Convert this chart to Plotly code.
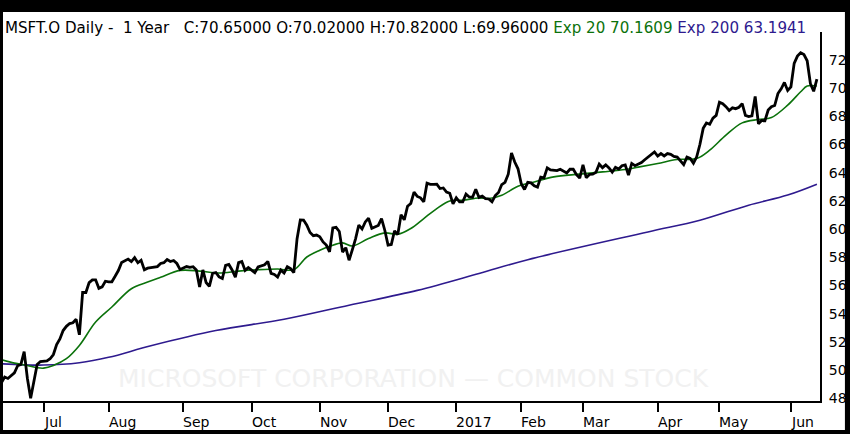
import numpy as np
import pandas as pd
import plotly.graph_objects as go

# NYSE holidays inside the one-year window
HOLIDAYS = ["2016-07-04", "2016-09-05", "2016-11-24", "2016-12-26", "2017-01-02",
            "2017-01-16", "2017-02-20", "2017-04-14", "2017-05-29"]
trade_days = pd.bdate_range("2016-06-14", "2017-06-13", freq="C", holidays=HOLIDAYS)

# daily closes, Jun 14 2016 .. Jun 13 2017
close_jun16 = [49.1, 49.5, 49.4, 49.6, 49.8, 50.3, 50.4, 51.3, 49.4, 48.0, 49.3, 50.4, 50.6]
close_jul16 = [50.6, 50.65, 50.8, 51.1, 51.8, 52.2, 52.8, 53.1, 53.3, 53.35, 53.6, 52.5, 55.5,
               55.5, 56.2, 56.4, 56.4, 55.8, 55.9, 56.3]
close_aug16 = [56.26, 56.26, 56.65, 57.06, 57.63, 57.73, 57.87, 57.69, 57.97, 57.61, 57.79, 57.11,
               57.23, 57.27, 57.29, 57.34, 57.56, 57.62, 57.84, 57.70, 57.77, 57.56, 57.13]
close_sep16 = [57.26, 57.34, 57.28, 57.33, 57.10, 55.89, 57.10, 56.21, 55.94, 56.86, 56.92, 56.61,
               56.49, 57.43, 57.49, 57.10, 56.58, 57.62, 57.70, 57.07, 57.27]
close_oct16 = [57.09, 56.91, 57.31, 57.41, 57.47, 57.71, 56.86, 56.78, 56.60, 57.09, 56.89, 57.33,
               57.20, 56.92, 59.32, 60.65, 60.64, 60.28, 59.76, 59.53, 59.58]
close_nov16 = [59.46, 59.09, 58.87, 58.38, 60.08, 60.13, 59.83, 58.37, 58.68, 57.79, 58.53, 59.31,
               60.29, 60.01, 60.51, 60.77, 60.06, 60.18, 60.26, 60.74, 59.92]
close_dec16 = [58.86, 58.91, 59.88, 59.61, 61.02, 60.66, 61.62, 61.82, 62.62, 62.32, 62.22, 61.94,
               63.26, 63.18, 63.18, 63.19, 62.88, 62.92, 62.63, 62.54, 61.79]
close_jan17 = [62.22, 61.94, 61.94, 62.48, 62.28, 62.26, 62.83, 62.25, 62.34, 62.17, 62.14, 61.94,
               62.38, 62.60, 63.16, 63.32, 63.90, 65.40, 64.76, 64.28]
close_feb17 = [63.22, 62.81, 63.32, 63.28, 63.07, 62.98, 63.69, 63.64, 64.35, 64.20, 64.16, 64.15,
               64.25, 64.12, 63.99, 64.25, 64.25, 63.86, 63.62]
close_mar17 = [64.57, 63.65, 63.88, 63.90, 64.03, 64.62, 64.36, 64.56, 64.34, 64.04, 64.38, 64.27,
               64.50, 64.56, 63.84, 64.66, 64.50, 64.61, 64.73, 64.92, 65.10, 65.34, 65.48]
close_apr17 = [65.18, 65.36, 65.19, 65.36, 65.31, 65.16, 65.11, 64.86, 64.58, 65.11, 65.02, 64.67,
               65.13, 66.02, 67.15, 67.53, 67.44, 67.88, 68.07]
close_may17 = [69.01, 68.90, 68.69, 68.42, 68.61, 68.55, 68.65, 68.91, 68.07, 67.99, 68.04, 69.41,
               67.48, 67.71, 67.69, 68.45, 68.68, 68.77, 69.62, 69.96, 70.41, 69.84]
close_jun17 = [70.10, 71.76, 72.28, 72.52, 72.39, 71.95, 70.32, 69.78, 70.65]

close = (close_jun16 + close_jul16 + close_aug16 + close_sep16 + close_oct16 + close_nov16 +
         close_dec16 + close_jan17 + close_feb17 + close_mar17 + close_apr17 + close_may17 + close_jun17)

# moving averages (trading-day number, value)
ema20_day = [0, 4, 8, 11, 13, 16, 20, 24, 29, 34, 40, 45, 49, 55, 61, 67, 73, 79, 85, 90, 94,
             98, 101, 105, 108, 113, 118, 122, 126, 130, 134, 138, 142, 147, 150, 154, 159, 164,
             170, 178, 185, 192, 196, 202, 208, 214, 218, 223, 228, 233, 237, 242, 246, 248, 251]
ema20_val = [50.73, 50.49, 50.32, 50.16, 50.13, 50.32, 50.80, 51.74, 53.40, 54.47, 55.77, 56.24,
             56.58, 57.07, 57.02, 56.88, 57.02, 57.12, 57.17, 57.12, 58.02, 58.50, 58.78, 59.02,
             58.80, 59.33, 59.73, 59.63, 60.04, 60.75, 61.46, 62.00, 62.05, 62.21, 62.17, 62.41,
             63.04, 63.35, 63.71, 63.90, 64.06, 64.23, 64.40, 64.66, 64.94, 65.01, 65.60, 66.67,
             67.54, 67.78, 67.92, 68.80, 69.75, 70.15, 70.16]
ema200_day = [0, 13, 24, 33, 46, 66, 87, 107, 128, 147, 162, 199, 215, 230, 242, 251]
ema200_val = [50.44, 50.35, 50.52, 50.90, 51.72, 52.80, 53.60, 54.60, 55.65, 56.85, 57.83, 59.80,
              60.63, 61.70, 62.42, 63.19]

y_ticks = list(range(48, 73, 2))

day = np.arange(len(trade_days))
month_start = [i for i in range(1, len(trade_days)) if trade_days[i].month != trade_days[i - 1].month]
month_text = ["2017" if trade_days[i].month == 1 else trade_days[i].strftime("%b") for i in month_start]

FONT = "DejaVu Sans"
GREEN = "#0b720b"
PURPLE = "#2e1a8e"

fig = go.Figure()
fig.add_trace(go.Scatter(x=ema200_day, y=ema200_val, mode="lines",
                         line=dict(color=PURPLE, width=1.6, shape="spline"), name="Exp 200"))
fig.add_trace(go.Scatter(x=ema20_day, y=ema20_val, mode="lines",
                         line=dict(color=GREEN, width=1.6, shape="spline"), name="Exp 20"))
fig.add_trace(go.Scatter(x=day, y=close, mode="lines",
                         line=dict(color="black", width=2.8), name="MSFT.O"))

fig.update_layout(
    width=850, height=434,
    margin=dict(l=3, r=28, t=32, b=33),
    paper_bgcolor="white", plot_bgcolor="white",
    showlegend=False,
    font=dict(family=FONT, size=14, color="black"),
)
fig.update_xaxes(range=[0.49, 251.95], showgrid=False, zeroline=False,
                 showline=True, linewidth=2, linecolor="black",
                 tickvals=month_start, showticklabels=False,
                 ticks="outside", ticklen=9, tickwidth=2, tickcolor="black")
fig.update_yaxes(range=[47.80, 73.99], side="right", showgrid=False, zeroline=False,
                 showline=True, linewidth=2, linecolor="black",
                 tickvals=y_ticks, ticks="", ticklabelstandoff=4,
                 tickfont=dict(family=FONT, size=14, color="black"))

# month labels sit to the right of their tick
for i, txt in zip(month_start, month_text):
    fig.add_annotation(x=i, y=-0.058, xref="x", yref="paper", text=txt, showarrow=False,
                       xanchor="left", yanchor="middle", xshift=-2,
                       font=dict(family=FONT, size=14, color="black"))

# header line
header = ("MSFT.O Daily -\u00a0 1 Year\u00a0\u00a0 C:70.65000 O:70.02000 H:70.82000 L:69.96000 "
          "<span style='color:%s'>Exp 20 70.1609</span> "
          "<span style='color:%s'>Exp 200 63.1941</span>" % (GREEN, PURPLE))
fig.add_annotation(x=0.0, y=1.0108, xref="paper", yref="paper", text=header, showarrow=False,
                   xanchor="left", yanchor="middle", font=dict(family=FONT, size=15.1, color="black"))

# faint watermark
fig.add_annotation(x=0.502, y=0.062, xref="paper", yref="paper",
                   text="MICROSOFT CORPORATION \u2014 COMMON STOCK", showarrow=False,
                   xanchor="center", yanchor="middle",
                   font=dict(family=FONT, size=25, color="#f1f1f1"))

# black picture frame: thick band on top, thin edges elsewhere
fig.add_annotation(x=0.5153, y=1.0705, xref="paper", yref="paper", text=" ", showarrow=False,
                   xanchor="center", yanchor="middle", width=880, height=12,
                   bgcolor="black", borderpad=0, borderwidth=0)
frame = dict(type="rect", xref="paper", yref="paper", fillcolor="black", line_width=0, layer="above")
fig.add_shape(x0=-0.01, x1=0.0, y0=-0.12, y1=1.12, **frame)
fig.add_shape(x0=1.0305, x1=1.05, y0=-0.12, y1=1.12, **frame)
fig.add_shape(x0=-0.01, x1=1.05, y0=-0.12, y1=-0.0786, **frame)

fig.write_html("out.html", config={"displayModeBar": False},
               post_script="document.body.style.margin='0';")
